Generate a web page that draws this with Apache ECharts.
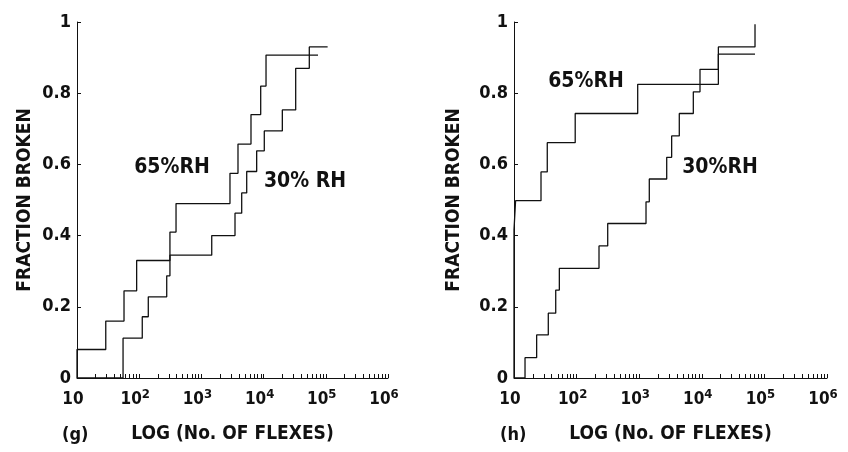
<!DOCTYPE html>
<html>
<head>
<meta charset="utf-8">
<script src="https://cdn.jsdelivr.net/npm/echarts@6/dist/echarts.min.js"></script>
<style>
  html, body { margin: 0; padding: 0; background: #fff; }
  #chart { width: 848px; height: 452px; }
</style>
</head>
<body>
<div id="chart"></div>
<script>
// panel (g): number of flexes at each step, and fraction broken after it
var gFlex65 = [10, 10, 29, 57, 91, 312, 391, 2880, 3875, 6270, 8980, 10940, 75000];
var gFrac65 = [0, 0.08, 0.16, 0.245, 0.33, 0.41, 0.49, 0.575, 0.657, 0.74, 0.82, 0.907, 0.907];
var gFlex30 = [10, 55, 112, 140, 277, 312, 1466, 3470, 4445, 5350, 7740, 10260, 20000, 32800, 54300, 107000];
var gFrac30 = [0, 0.112, 0.172, 0.228, 0.287, 0.345, 0.40, 0.463, 0.52, 0.58, 0.638, 0.694, 0.753, 0.87, 0.93, 0.93];

// panel (h)
var hFlex65 = [10, 10, 10.6, 27, 34, 95, 946, 18400, 70800];
var hFrac65 = [0, 0.416, 0.498, 0.579, 0.661, 0.743, 0.825, 0.91, 0.91];
var hFlex30 = [10, 15, 23, 35.3, 46.4, 53, 228, 314, 1285, 1450, 2750, 3300, 4370, 7320, 9360, 18400, 70800];
var hFrac30 = [0, 0.057, 0.121, 0.182, 0.247, 0.308, 0.371, 0.434, 0.495, 0.559, 0.62, 0.68, 0.743, 0.804, 0.867, 0.93, 0.994];

var yTicks = [0, 0.2, 0.4, 0.6, 0.8, 1];
var panelTags = ['(g)', '(h)'];

var FONT = '"DejaVu Sans Condensed", "DejaVu Sans", sans-serif';
var INK = '#111';

var zip = function (xs, ys) {
    var res = [];
    for (var i = 0; i < xs.length; i++) {
        res.push([xs[i], ys[i]]);
    }
    return res;
};

var xAxisFor = function (idx) {
    return {
        type: 'log',
        gridIndex: idx,
        min: 10,
        max: 1e6,
        logBase: 10,
        name: 'LOG (No. OF FLEXES)',
        nameLocation: 'middle',
        nameGap: 47,
        nameTextStyle: {color: INK, fontFamily: FONT, fontWeight: 'bold', fontSize: 19},
        axisLine: {lineStyle: {color: INK, width: 1}},
        axisTick: {show: true, inside: true, length: 4, lineStyle: {color: INK}},
        minorTick: {show: true, splitNumber: 9, length: 4, lineStyle: {color: INK}},
        splitLine: {show: false},
        minorSplitLine: {show: false},
        axisLabel: {
            margin: 10,
            color: INK,
            fontFamily: FONT,
            fontWeight: 'bold',
            fontSize: 17,
            padding: [0, 8, 0, 0],
            formatter: function (v) {
                var e = Math.round(Math.log10(v));
                return e === 1 ? '{b|10}' : '{b|10}{s|' + e + '}';
            },
            rich: {
                b: {fontFamily: FONT, fontWeight: 'bold', fontSize: 17, color: INK, lineHeight: 20, verticalAlign: 'bottom'},
                s: {fontFamily: FONT, fontWeight: 'bold', fontSize: 13, color: INK, lineHeight: 20, verticalAlign: 'top'}
            }
        }
    };
};

var yAxisFor = function (idx, gap) {
    return {
        type: 'value',
        gridIndex: idx,
        min: yTicks[0],
        max: yTicks[yTicks.length - 1],
        interval: 0.2,
        name: 'FRACTION BROKEN',
        nameLocation: 'middle',
        nameGap: gap,
        nameTextStyle: {color: INK, fontFamily: FONT, fontWeight: 'bold', fontSize: 19},
        axisLine: {show: true, lineStyle: {color: INK, width: 1}},
        axisTick: {show: true, inside: true, length: 4, lineStyle: {color: INK}},
        splitLine: {show: false},
        axisLabel: {
            margin: 6,
            color: INK,
            fontFamily: FONT,
            fontWeight: 'bold',
            fontSize: 18,
            formatter: function (v) {
                if (v === 0) return '0';
                if (v === 1) return '1';
                return v.toFixed(1);
            }
        }
    };
};

var stepLine = function (name, idx, data) {
    return {
        name: name,
        type: 'line',
        xAxisIndex: idx,
        yAxisIndex: idx,
        step: 'end',
        symbol: 'none',
        data: data,
        lineStyle: {color: INK, width: 1.3},
        animation: false
    };
};

// curve names written inside the plots, centred on (x, y)
var label = function (text, x, y) {
    return {
        type: 'text',
        x: x,
        y: y,
        style: {text: text, fill: INK, font: 'bold 21px ' + FONT, align: 'center', verticalAlign: 'middle'}
    };
};

var option = {
    backgroundColor: '#fff',
    animation: false,
    grid: [
        {left: 77, top: 22, width: 311, height: 356},
        {left: 514, top: 22, width: 313, height: 356}
    ],
    xAxis: [xAxisFor(0), xAxisFor(1)],
    yAxis: [yAxisFor(0, 42), yAxisFor(1, 50)],
    series: [
        stepLine('65%RH', 0, zip(gFlex65, gFrac65)),
        stepLine('30% RH', 0, zip(gFlex30, gFrac30)),
        stepLine('65%RH', 1, zip(hFlex65, hFrac65)),
        stepLine('30%RH', 1, zip(hFlex30, hFrac30))
    ],
    graphic: [
        label('65%RH', 172, 168),
        label('30% RH', 305, 182),
        label('65%RH', 586, 82),
        label('30%RH', 720, 168),
        {type: 'text', left: 62, top: 426, style: {text: panelTags[0], fill: INK, font: 'bold 18px ' + FONT}},
        {type: 'text', left: 500, top: 426, style: {text: panelTags[1], fill: INK, font: 'bold 18px ' + FONT}}
    ]
};

var chart = echarts.init(document.getElementById('chart'));
chart.setOption(option);
</script>
</body>
</html>
